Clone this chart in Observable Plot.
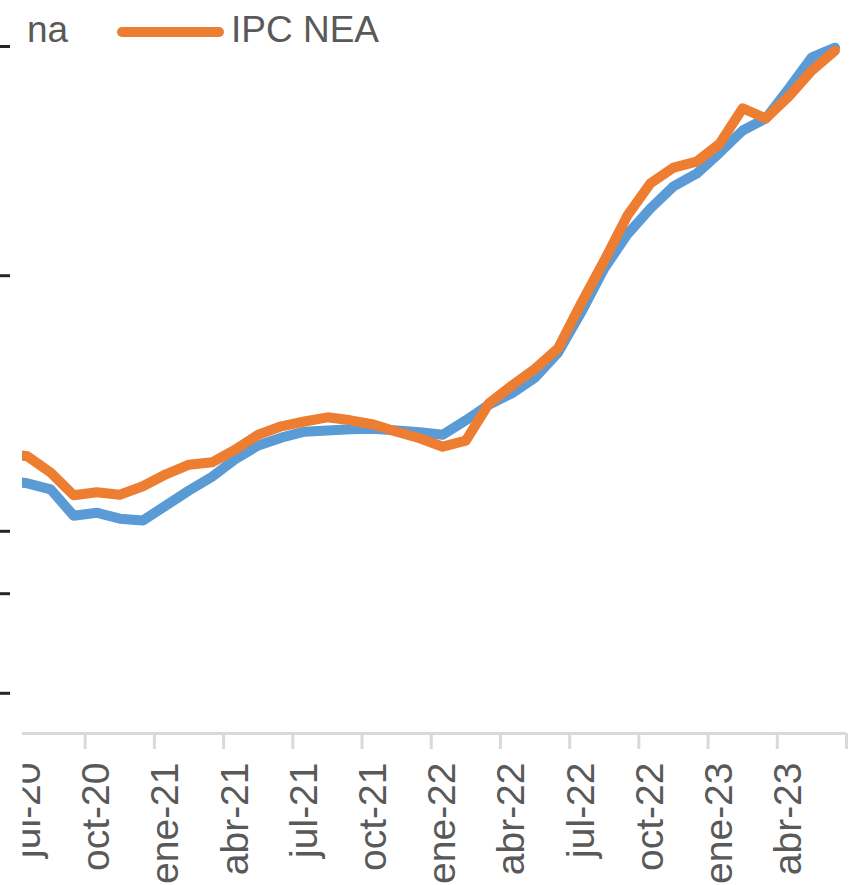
<!DOCTYPE html>
<html>
<head>
<meta charset="utf-8">
<script src="https://cdn.jsdelivr.net/npm/d3@7"></script>
<script src="https://cdn.jsdelivr.net/npm/@observablehq/plot@0.6"></script>
<style>
  html, body { margin: 0; padding: 0; background: #ffffff; }
  #wrap { width: 859px; height: 885px; overflow: hidden; position: relative; font-family: "Liberation Sans", Arial, sans-serif; }
  #legend { position: relative; height: 40px; z-index: 2; }
  #legend .lab { position: absolute; font-size: 37px; color: #595959; line-height: normal; white-space: nowrap; }
  #legend .sw { position: absolute; height: 10px; border-radius: 5px; }
  #chart { position: relative; z-index: 1; }
</style>
</head>
<body>
<div id="wrap">
  <div id="legend"></div>
  <div id="chart"></div>
</div>
<script>
// ---- data ----
const months = ["jun-20","jul-20","ago-20","sep-20","oct-20","nov-20","dic-20",
  "ene-21","feb-21","mar-21","abr-21","may-21","jun-21","jul-21","ago-21","sep-21","oct-21","nov-21","dic-21",
  "ene-22","feb-22","mar-22","abr-22","may-22","jun-22","jul-22","ago-22","sep-22","oct-22","nov-22","dic-22",
  "ene-23","feb-23","mar-23","abr-23","may-23","jun-23"];

const seriesNames = ["na", "IPC NEA"];
const seriesColors = ["#5B9BD5", "#ED7D31"];

const valuesA = [4.22, 4.17, 4.07, 3.63, 3.68, 3.58, 3.55, 3.80, 4.05, 4.28, 4.57, 4.80, 4.93, 5.03, 5.05, 5.07,
  5.08, 5.05, 5.02, 4.98, 5.22, 5.48, 5.67, 5.93, 6.35, 7.02, 7.75, 8.32, 8.75, 9.12, 9.33, 9.68, 10.05, 10.25,
  10.75, 11.27, 11.43];
const valuesNEA = [4.67, 4.62, 4.35, 3.97, 4.02, 3.98, 4.12, 4.32, 4.48, 4.52, 4.73, 4.98, 5.12, 5.20, 5.27, 5.22,
  5.15, 5.03, 4.92, 4.78, 4.88, 5.50, 5.80, 6.08, 6.42, 7.17, 7.88, 8.63, 9.17, 9.43, 9.53, 9.83, 10.42, 10.25,
  10.62, 11.05, 11.38];

// labelled months (every third month, from jul-20)
const labelMonths = ["jul-20","oct-20","ene-21","abr-21","jul-21","oct-21","ene-22","abr-22","jul-22","oct-22","ene-23","abr-23"];
// partially visible y-axis tick fragments (values)
const yFragments = [11.45, 7.63, 3.37, 2.33, 0.67];

// ---- build ----
const rows = [];
months.forEach((m, i) => {
  rows.push({i, month: m, value: valuesA[i], series: seriesNames[0]});
});
months.forEach((m, i) => {
  rows.push({i, month: m, value: valuesNEA[i], series: seriesNames[1]});
});
const labelIdx = labelMonths.map(m => months.indexOf(m));
const boundaryIdx = labelIdx.slice(1).map(i => i - 0.5).concat([months.length - 0.5]);

const W = 859, H = 845, ML = 22, MR = 13, MT = 0, MB = 152;

const plot = Plot.plot({
  width: W,
  height: H,
  marginLeft: ML,
  marginRight: MR,
  marginTop: MT,
  marginBottom: MB,
  style: {background: "transparent", fontFamily: "'Liberation Sans', Arial, sans-serif", color: "#595959"},
  x: {domain: [0.783, months.length - 0.5], axis: null},
  y: {domain: [0, 11.55], axis: null},
  color: {domain: seriesNames, range: seriesColors},
  marks: [
    Plot.axisY(yFragments, {tickSize: 10, dx: -12, tickFormat: () => "", label: null,
      stroke: "#262626", strokeWidth: 3}),
    Plot.ruleY([0], {stroke: "#d9d9d9", strokeWidth: 3}),
    Plot.axisX(boundaryIdx, {tickSize: 16, tickFormat: () => "", label: null,
      stroke: "#d9d9d9", strokeWidth: 3}),
    Plot.axisX(labelIdx, {tickSize: 0, tickPadding: 29, tickRotate: -90, fontSize: 39, label: null,
      tickFormat: i => months[i], fill: "#595959"}),
    Plot.line(rows.filter(d => d.series === seriesNames[0]), {x: "i", y: "value", stroke: "series",
      strokeWidth: 10, strokeLinejoin: "round", strokeLinecap: "round", clip: true}),
    Plot.line(rows.filter(d => d.series === seriesNames[1]), {x: "i", y: "value", stroke: "series",
      strokeWidth: 10, strokeLinejoin: "round", strokeLinecap: "round", clip: true})
  ]
});

// clip the x tick labels to the plotting band (the reference is cropped there)
const svg = d3.select(plot);
const defs = svg.insert("defs", ":first-child");
defs.append("clipPath").attr("id", "xlabclip").append("rect")
  .attr("x", ML).attr("y", 0).attr("width", W - ML).attr("height", H);
svg.selectAll('g[aria-label="x-axis tick label"]').attr("clip-path", "url(#xlabclip)");

document.getElementById("chart").appendChild(plot);

// ---- legend ----
const legend = document.getElementById("legend");
const lab1 = document.createElement("span");
lab1.className = "lab"; lab1.textContent = seriesNames[0];
lab1.style.left = "27px"; lab1.style.top = "9px";
legend.appendChild(lab1);
const sw = document.createElement("span");
sw.className = "sw"; sw.style.background = seriesColors[1];
sw.style.left = "117px"; sw.style.width = "107px"; sw.style.top = "27px";
legend.appendChild(sw);
const lab2 = document.createElement("span");
lab2.className = "lab"; lab2.textContent = seriesNames[1];
lab2.style.left = "231px"; lab2.style.top = "9px";
legend.appendChild(lab2);
</script>
</body>
</html>
